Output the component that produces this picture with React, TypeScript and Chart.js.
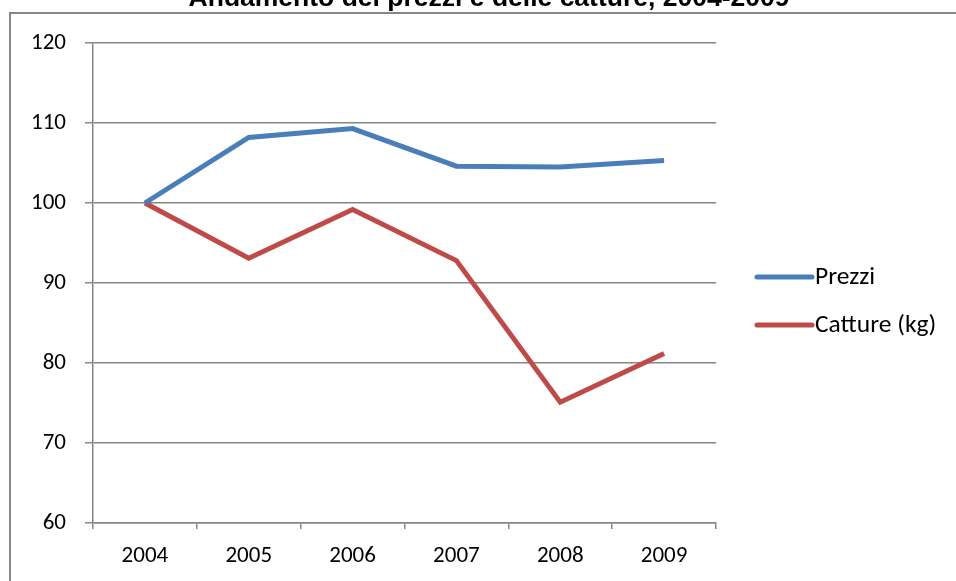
import React, { useEffect, useRef } from "react";
import { Chart, registerables } from "chart.js";

Chart.register(...registerables);

const TITLE = "Andamento dei prezzi e delle catture, 2004-2009";
const categories = ["2004", "2005", "2006", "2007", "2008", "2009"];
const prezzi = [100, 108.2, 109.3, 104.6, 104.5, 105.3];
const catture = [100, 93.1, 99.2, 92.8, 75.1, 81.2];
const seriesNames = ["Prezzi", "Catture (kg)"];
const seriesColors = ["#4a7ebb", "#be4b48"];
const yMin = 60;
const yMax = 120;
const yStep = 10;

const FONT = "Calibri, Carlito, Lato, sans-serif";

export default function App() {
  const ref = useRef<HTMLCanvasElement | null>(null);

  useEffect(() => {
    document.body.style.margin = "0";
    const canvas = ref.current!;
    const decor = {
      id: "decor",
      beforeDraw(chart: any) {
        const ctx = chart.ctx;
        ctx.save();
        ctx.fillStyle = "#ffffff";
        ctx.fillRect(0, 0, chart.width, chart.height);
        ctx.strokeStyle = "#868686";
        ctx.lineWidth = 2;
        ctx.beginPath();
        ctx.moveTo(10, chart.height + 5);
        ctx.lineTo(10, 13);
        ctx.lineTo(chart.width + 5, 13);
        ctx.stroke();
        ctx.restore();
      },
      afterDraw(chart: any) {
        const ctx = chart.ctx;
        ctx.save();
        ctx.fillStyle = "#000000";
        ctx.font = "bold 26.5px 'Liberation Sans', Arial, sans-serif";
        ctx.textAlign = "center";
        ctx.textBaseline = "alphabetic";
        ctx.fillText(TITLE, 489, 6);
        // legend
        const lx = 757;
        const ys = [277, 325];
        seriesNames.forEach((name, i) => {
          ctx.strokeStyle = seriesColors[i];
          ctx.lineWidth = 5;
          ctx.lineCap = "round";
          ctx.beginPath();
          ctx.moveTo(lx, ys[i]);
          ctx.lineTo(lx + 55, ys[i]);
          ctx.stroke();
          ctx.fillStyle = "#000000";
          ctx.font = "25.5px " + FONT;
          ctx.textAlign = "left";
          ctx.textBaseline = "middle";
          ctx.fillText(name, lx + 58, ys[i] + 1);
        });
        ctx.restore();
      },
    };

    const chart = new Chart(canvas, {
      type: "line",
      data: {
        labels: categories,
        datasets: [
          {
            label: seriesNames[0],
            data: prezzi,
            borderColor: seriesColors[0],
            backgroundColor: seriesColors[0],
            borderWidth: 5,
            pointRadius: 0,
            tension: 0,
          },
          {
            label: seriesNames[1],
            data: catture,
            borderColor: seriesColors[1],
            backgroundColor: seriesColors[1],
            borderWidth: 5,
            pointRadius: 0,
            tension: 0,
          },
        ],
      },
      options: {
        animation: false,
        responsive: false,
        devicePixelRatio: 1,
        layout: { padding: { top: 43, right: 240, bottom: 0, left: 0 } },
        plugins: {
          legend: { display: false },
          title: { display: false },
          tooltip: { enabled: false },
        },
        scales: {
          x: {
            offset: true,
            grid: {
              offset: true,
              drawOnChartArea: false,
              drawTicks: true,
              tickLength: 6,
              color: "#868686",
              lineWidth: 1.5,
            },
            border: { display: true, color: "#868686", width: 1.5 },
            ticks: {
              color: "#000000",
              font: { family: FONT, size: 23 },
              padding: 13,
              maxRotation: 0,
            },
            afterFit(scale: any) {
              scale.height = 58;
            },
          },
          y: {
            min: yMin,
            max: yMax,
            ticks: {
              stepSize: yStep,
              color: "#000000",
              font: { family: FONT, size: 23 },
              padding: 19,
            },
            grid: {
              color: "#868686",
              lineWidth: 1.5,
              tickLength: 8,
            },
            border: { display: true, color: "#868686", width: 1.5 },
            afterFit(scale: any) {
              scale.width = 93;
            },
          },
        },
      },
      plugins: [decor],
    });
    return () => chart.destroy();
  }, []);

  return (
    <div style={{ position: "absolute", left: 0, top: 0, width: 956, height: 581 }}>
      <canvas ref={ref} width={956} height={581} style={{ width: 956, height: 581, display: "block" }} />
    </div>
  );
}
